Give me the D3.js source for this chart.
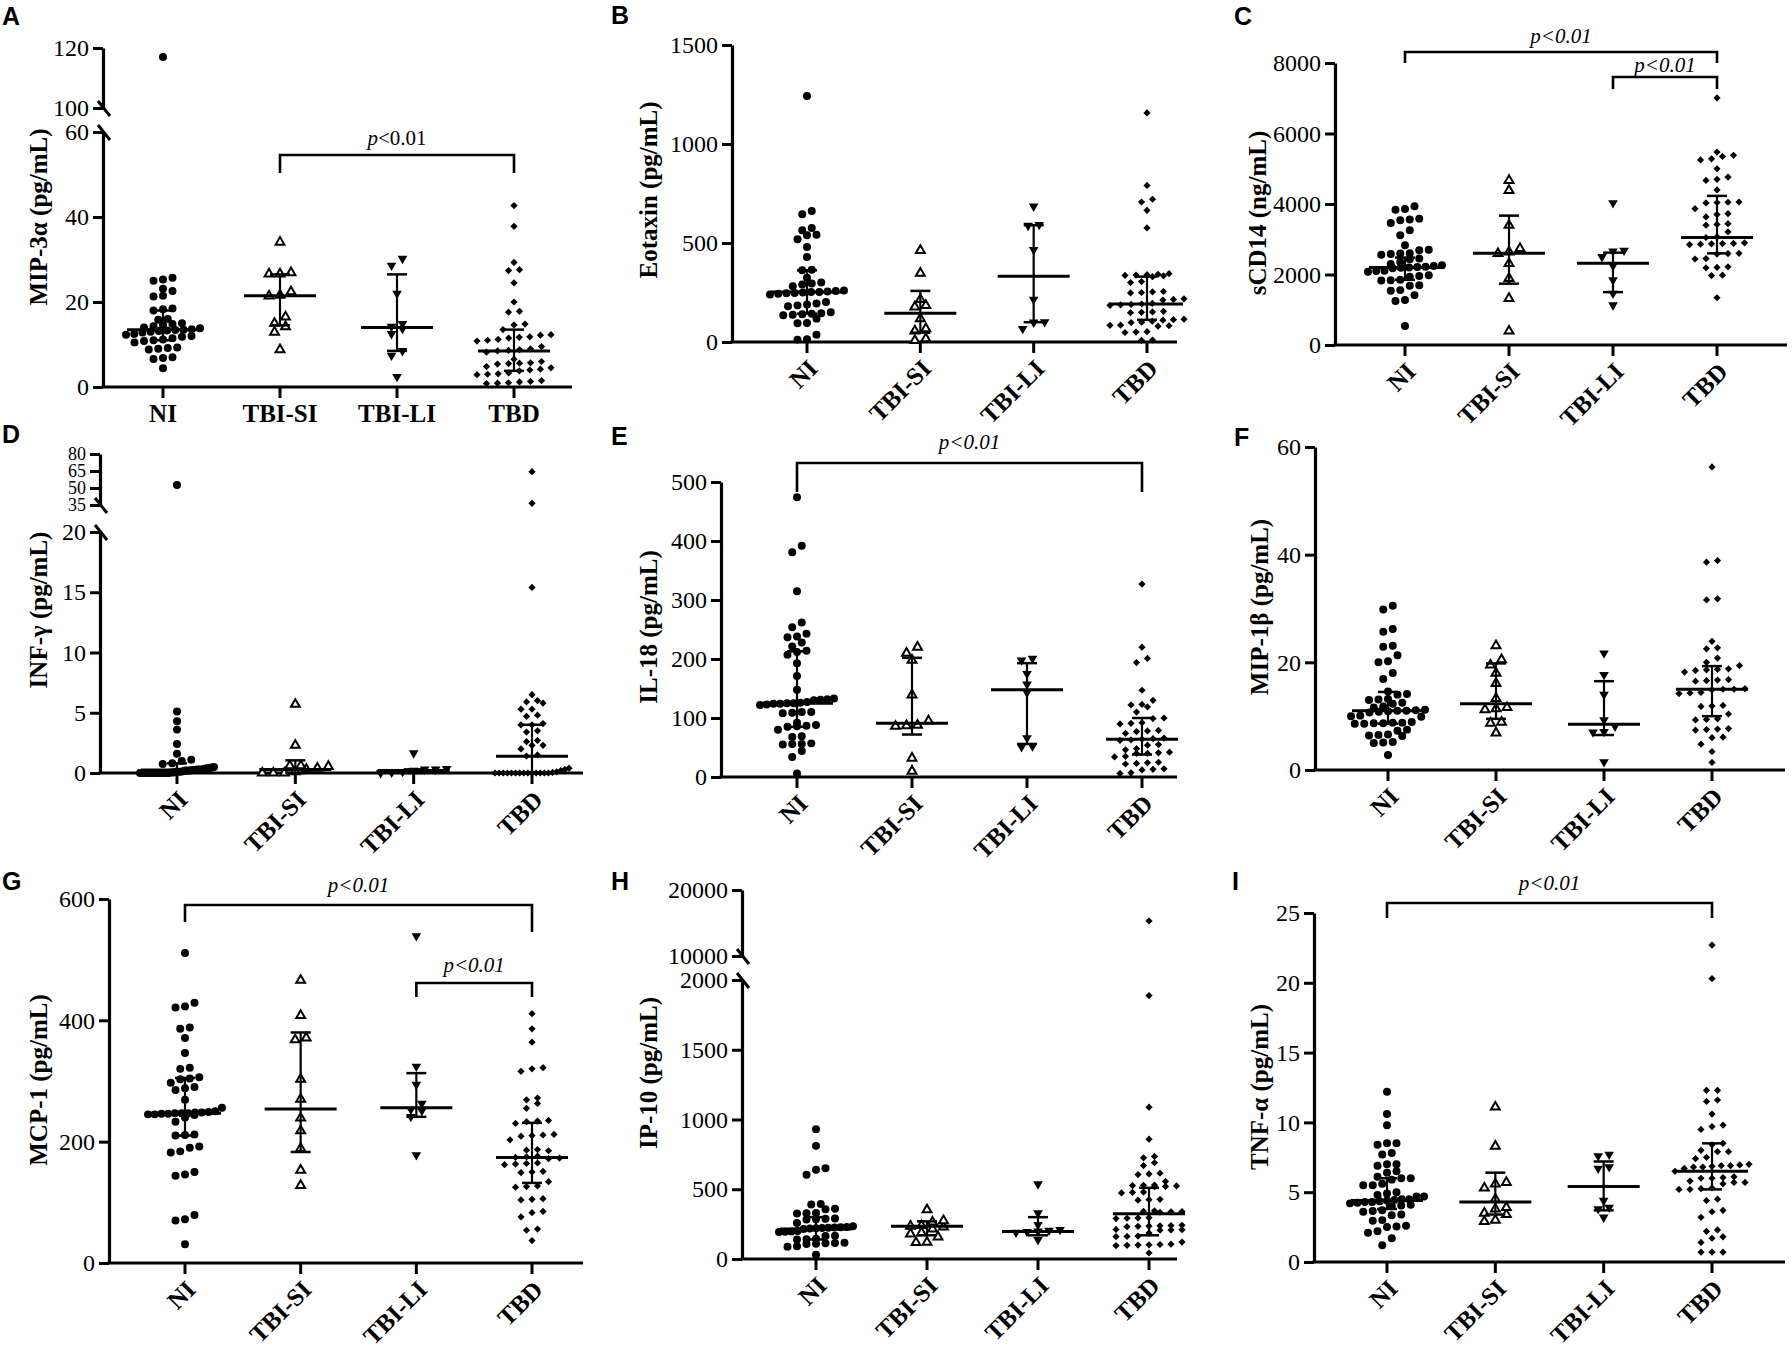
<!DOCTYPE html>
<html>
<head>
<meta charset="utf-8">
<script src="https://cdn.jsdelivr.net/npm/d3@7"></script>
<style>
body { margin: 0; background: #fff; }
svg { display: block; }
</style>
</head>
<body>
<svg id="fig" width="1792" height="1363"></svg>
<script>
const groups = ["NI", "TBI-SI", "TBI-LI", "TBD"];

// A  MIP-3alpha
const mip3a = [
  [117, 25.7, 25.3, 25.0, 23.1, 22.6, 21.5, 21.3, 18.5, 18.3, 18.0, 16.0, 15.8, 15.0, 14.8, 14.6, 14.3, 14.0, 13.8, 13.6, 13.5, 13.4, 13.3, 13.2, 13.0, 12.8, 12.5, 12.3, 12.0, 11.8, 11.5, 11.2, 11.0, 10.8, 10.5, 9.3, 9.2, 9.0, 8.8, 7.0, 6.8, 6.6, 4.4],
  [34.1, 26.9, 26.6, 26.6, 22.4, 21.6, 21.4, 16.5, 15.0, 14.2, 12.9, 8.8],
  [30.2, 28.6, 22.0, 14.9, 14.2, 13.7, 12.5, 8.5, 7.4, 2.4],
  [42.7, 37.8, 29.3, 27.6, 27.4, 24.5, 20.0, 17.8, 17.6, 14.8, 14.6, 13.5, 12.3, 12.2, 11.8, 11.7, 11.5, 11.2, 11.0, 10.8, 9.5, 9.0, 8.8, 8.6, 8.5, 8.2, 6.5, 6.0, 5.7, 5.6, 5.5, 5.4, 4.8, 4.5, 4.2, 4.0, 3.8, 3.3, 3.1, 3.0, 2.9, 1.5, 1.3, 1.2, 1.0, 0.9, 0.8]
];
const mip3aMedian = [13.5, 21.5, 14, 8.5];
const mip3aLow = [11, 14.5, 8.5, 3.8];
const mip3aHigh = [18, 26.5, 26.5, 13.5];
const mip3aTicks = [0, 20, 40, 60, 100, 120];

// B  Eotaxin
const eotaxin = [
  [1242, 662, 645, 576, 564, 542, 539, 519, 480, 429, 365, 362, 325, 300, 295, 290, 281, 260, 258, 255, 253, 252, 250, 248, 246, 244, 240, 202, 195, 190, 185, 180, 150, 145, 143, 140, 138, 135, 118, 96, 95, 37, 14, 12],
  [463, 348, 215, 185, 177, 118, 67, 56, 17, 8],
  [685, 592, 588, 466, 215, 101, 99, 67],
  [1157, 791, 721, 707, 665, 576, 345, 342, 340, 338, 336, 334, 330, 305, 300, 255, 253, 250, 248, 218, 215, 212, 195, 192, 190, 188, 185, 155, 152, 150, 148, 115, 113, 110, 105, 100, 98, 85, 84, 82, 80, 52, 50, 48, 10, 8]
];
const eotaxinMedian = [252, 145, 332, 192];
const eotaxinLow = [143, 47, 100, 112];
const eotaxinHigh = [362, 258, 590, 330];
const eotaxinTicks = [0, 500, 1000, 1500];

// C  sCD14
const scd14 = [
  [3934, 3860, 3840, 3585, 3560, 3538, 3462, 3255, 3113, 2830, 2700, 2689, 2600, 2594, 2580, 2560, 2453, 2430, 2358, 2300, 2260, 2240, 2220, 2210, 2200, 2190, 2180, 2104, 2100, 2080, 1981, 1960, 1940, 1850, 1840, 1830, 1698, 1680, 1557, 1540, 1415, 1274, 1250, 538],
  [4670, 4387, 3396, 2736, 2640, 2594, 2311, 1887, 1321, 396],
  [4028, 2680, 2660, 2500, 2245, 1840, 1462, 1132],
  [7010, 5472, 5380, 5350, 5283, 5250, 5000, 4764, 4700, 4670, 4400, 4057, 4050, 4040, 4030, 3868, 3726, 3700, 3632, 3443, 3420, 3400, 3208, 3066, 3050, 2900, 2880, 2877, 2870, 2860, 2850, 2600, 2594, 2580, 2453, 2440, 2217, 2200, 2190, 1981, 1970, 1340]
];
const scd14Median = [2200, 2600, 2320, 3050];
const scd14Low = [1850, 1740, 1500, 2600];
const scd14High = [2480, 3670, 2620, 4230];
const scd14Ticks = [0, 2000, 4000, 6000, 8000];

// D  INF-gamma
const infg = [
  [52.6, 5.1, 4.3, 3.6, 2.4, 1.6, 1.1, 1.0, 0.8, 0.75, 0.5, 0.45, 0.4, 0.4, 0.35, 0.3, 0.3, 0.3, 0.25, 0.25, 0.2, 0.2, 0.2, 0.15, 0.1, 0.1, 0.1, 0.05, 0.05, 0, 0, 0, 0, 0, 0, 0, 0, 0, 0, 0, 0, 0],
  [5.7, 2.3, 0.6, 0.6, 0.55, 0.4, 0.3, 0.1, 0, 0, 0],
  [1.65, 0.35, 0.3, 0.3, 0.2, 0.1, 0.05, 0],
  [64.4, 36.5, 15.4, 6.5, 6.0, 5.9, 5.8, 5.3, 5.3, 4.8, 4.7, 4.1, 4.0, 4.0, 3.5, 3.4, 2.7, 2.6, 2.3, 2.3, 2.0, 1.5, 1.4, 0.4, 0.3, 0.2, 0.1, 0.05, 0, 0, 0, 0, 0, 0, 0, 0, 0, 0, 0, 0, 0, 0]
];
const infgMedian = [0.25, 0.3, 0.2, 1.4];
const infgLow = [0, 0, 0, 0];
const infgHigh = [0.8, 1.05, 0.3, 4.0];
const infgTicks = [0, 5, 10, 15, 20, 35, 50, 65, 80];

// E  IL-18
const il18 = [
  [474, 392, 381, 315, 262, 254, 243, 238, 237, 228, 221, 214, 212, 207, 193, 171, 148, 133, 132, 131, 130, 127, 126, 125, 125, 124, 124, 123, 122, 110, 110, 109, 108, 92, 88, 87, 86, 85, 80, 69, 68, 57, 56, 56, 55, 44, 34, 6],
  [220, 210, 198, 139, 95, 88, 87, 86, 32, 10],
  [201, 198, 175, 157, 143, 66, 52, 51],
  [327, 220, 201, 194, 147, 130, 123, 122, 119, 110, 100, 99, 92, 91, 90, 79, 78, 77, 74, 66, 65, 64, 63, 62, 55, 54, 48, 46, 42, 41, 40, 40, 35, 34, 25, 24, 23, 22, 14, 13, 12, 7, 6]
];
const il18Median = [125, 91, 148, 64];
const il18Low = [85, 72, 56, 38];
const il18High = [213, 202, 193, 100];
const il18Ticks = [0, 100, 200, 300, 400, 500];

// F  MIP-1beta
const mip1b = [
  [30.5, 29.8, 26.2, 25.7, 23.1, 22.9, 21.3, 20.2, 20.0, 18.0, 16.9, 14.6, 14.1, 14.0, 13.2, 13.1, 13.0, 12.5, 12.3, 11.8, 11.6, 11.2, 11.1, 11.0, 11.0, 10.9, 10.8, 10.7, 10.1, 10.0, 9.9, 8.9, 8.8, 8.8, 8.7, 8.7, 8.6, 8.6, 7.5, 7.3, 6.6, 6.5, 6.4, 6.3, 5.2, 5.1, 5.0, 2.8],
  [23.1, 20.5, 19.5, 18.0, 16.1, 13.3, 11.6, 11.4, 11.2, 8.9, 8.7, 6.9],
  [21.7, 17.7, 14.0, 9.3, 8.1, 7.1, 7.0, 1.5],
  [56.3, 38.9, 38.6, 31.8, 31.6, 23.9, 22.7, 22.5, 20.8, 20.0, 19.4, 18.8, 18.7, 18.6, 18.5, 18.2, 16.8, 16.7, 16.6, 16.5, 15.1, 15.0, 15.0, 14.9, 14.4, 14.3, 14.2, 12.0, 11.9, 11.8, 10.4, 9.5, 9.4, 9.3, 7.7, 7.6, 7.5, 7.4, 6.1, 6.0, 4.8, 3.4, 1.4]
];
const mip1bMedian = [11, 12.3, 8.5, 15];
const mip1bLow = [8.6, 9.5, 6.5, 10];
const mip1bHigh = [14.5, 19.8, 16.5, 19.3];
const mip1bTicks = [0, 20, 40, 60];

// G  MCP-1
const mcp1 = [
  [511, 429, 423, 421, 388, 386, 371, 346, 322, 320, 306, 304, 303, 297, 290, 288, 285, 269, 256, 250, 249, 248, 248, 247, 247, 247, 246, 246, 245, 245, 244, 240, 233, 212, 211, 210, 192, 190, 184, 182, 150, 146, 144, 79, 72, 70, 31],
  [466, 408, 371, 368, 303, 270, 239, 218, 189, 153, 128],
  [539, 324, 294, 263, 253, 251, 241, 178],
  [411, 386, 364, 322, 320, 316, 272, 269, 263, 255, 235, 234, 233, 230, 212, 211, 210, 209, 203, 187, 186, 185, 176, 175, 174, 173, 172, 165, 164, 163, 162, 151, 150, 149, 134, 127, 126, 125, 106, 105, 104, 85, 83, 76, 56, 54, 37]
];
const mcp1Median = [247, 254, 256, 174];
const mcp1Low = [210, 183, 241, 132];
const mcp1High = [305, 380, 313, 231];
const mcp1Ticks = [0, 200, 400, 600];

// H  IP-10
const ip10 = [
  [931, 811, 650, 640, 604, 394, 390, 360, 356, 330, 328, 326, 290, 288, 285, 283, 258, 235, 230, 228, 226, 224, 222, 220, 218, 215, 200, 198, 196, 194, 167, 165, 145, 142, 140, 117, 115, 113, 110, 108, 91, 88, 31],
  [353, 275, 265, 240, 236, 230, 215, 188, 180, 158, 120, 118],
  [537, 329, 246, 210, 205, 198, 196, 190, 138],
  [15300, 1888, 1088, 859, 735, 725, 690, 670, 615, 610, 605, 556, 530, 528, 526, 524, 520, 518, 480, 477, 474, 428, 425, 422, 345, 342, 340, 338, 335, 296, 294, 292, 290, 242, 240, 238, 236, 234, 232, 212, 210, 208, 206, 186, 164, 162, 160, 121, 106, 104, 102, 100, 98, 96, 43]
];
const ip10Median = [215, 234, 198, 325];
const ip10Low = [140, 170, 170, 170];
const ip10High = [300, 270, 300, 510];
const ip10Ticks = [0, 500, 1000, 1500, 2000, 10000, 20000];

// I  TNF-alpha
const tnfa = [
  [12.2, 10.6, 9.8, 8.5, 8.5, 8.4, 7.8, 7.7, 7.0, 7.0, 6.9, 6.5, 6.4, 6.1, 6.0, 6.0, 5.9, 5.6, 5.5, 5.5, 5.0, 4.9, 4.8, 4.7, 4.7, 4.5, 4.5, 4.45, 4.4, 4.35, 4.3, 4.3, 4.25, 4.2, 4.1, 4.05, 4.0, 3.7, 3.65, 3.6, 3.4, 3.35, 3.0, 2.95, 2.6, 2.55, 2.5, 2.2, 2.1, 1.7, 1.2],
  [11.1, 8.3, 5.7, 5.6, 5.3, 4.5, 3.9, 3.8, 3.5, 3.4, 3.0, 2.9],
  [7.7, 7.6, 6.8, 6.7, 4.4, 3.9, 3.8, 3.2],
  [22.7, 20.3, 12.3, 12.3, 11.6, 11.5, 10.6, 9.8, 9.7, 9.5, 8.5, 8.4, 8.0, 7.9, 7.9, 7.5, 7.4, 7.0, 6.95, 6.9, 6.9, 6.85, 6.8, 6.8, 6.7, 6.5, 6.1, 6.05, 6.0, 6.0, 5.8, 5.7, 5.7, 5.6, 5.3, 5.25, 5.2, 5.2, 4.5, 4.4, 3.7, 3.6, 3.2, 2.3, 2.2, 1.8, 1.7, 1.4, 0.7, 0.7, 0.7]
];
const tnfaMedian = [4.4, 4.3, 5.4, 6.5];
const tnfaLow = [3.8, 3.4, 3.7, 5.2];
const tnfaHigh = [6.0, 6.4, 7.2, 8.5];
const tnfaTicks = [0, 5, 10, 15, 20, 25];

// layout of the nine panels (pixels)
const panels = [
  { letter: "A", title: "MIP-3\u03b1 (pg/mL)", data: mip3a, med: mip3aMedian, lo: mip3aLow, hi: mip3aHigh, ticks: mip3aTicks,
    ax: 103, axEnd: 572, xr: [163, 514], flat: true,
    segs: [{ domain: [0, 60], range: [387, 132] }, { domain: [100, 120], range: [108, 48] }],
    letterPos: [2, 25], titlePos: [38, 217],
    brackets: [{ a: 1, b: 3, y: 155, d1: 173, d2: 173, ty: 145, mixed: true }] },
  { letter: "B", title: "Eotaxin (pg/mL)", data: eotaxin, med: eotaxinMedian, lo: eotaxinLow, hi: eotaxinHigh, ticks: eotaxinTicks,
    ax: 732, axEnd: 1177, xr: [807, 1147],
    segs: [{ domain: [0, 1500], range: [342, 45] }],
    letterPos: [611, 24], titlePos: [648, 190], brackets: [] },
  { letter: "C", title: "sCD14 (ng/mL)", data: scd14, med: scd14Median, lo: scd14Low, hi: scd14High, ticks: scd14Ticks,
    ax: 1335, axEnd: 1787, xr: [1405, 1717],
    segs: [{ domain: [0, 8000], range: [345, 63] }],
    letterPos: [1234, 25], titlePos: [1257, 213],
    brackets: [{ a: 0, b: 3, y: 52, d1: 63, d2: 63, ty: 43 }, { a: 2, b: 3, y: 77, d1: 89, d2: 89, ty: 72 }] },
  { letter: "D", title: "INF-\u03b3 (pg/mL)", data: infg, med: infgMedian, lo: infgLow, hi: infgHigh, ticks: infgTicks,
    ax: 100, axEnd: 583, xr: [177, 532],
    segs: [{ domain: [0, 20], range: [773, 532] }, { domain: [35, 80], range: [505, 454] }],
    letterPos: [2, 443], titlePos: [38, 610], brackets: [], smallUpper: true },
  { letter: "E", title: "IL-18  (pg/mL)", data: il18, med: il18Median, lo: il18Low, hi: il18High, ticks: il18Ticks,
    ax: 721, axEnd: 1177, xr: [797, 1142],
    segs: [{ domain: [0, 500], range: [777, 482] }],
    letterPos: [611, 445], titlePos: [648, 627],
    brackets: [{ a: 0, b: 3, y: 463, d1: 492, d2: 492, ty: 449 }] },
  { letter: "F", title: "MIP-1\u03b2 (pg/mL)", data: mip1b, med: mip1bMedian, lo: mip1bLow, hi: mip1bHigh, ticks: mip1bTicks,
    ax: 1315, axEnd: 1785, xr: [1388, 1712],
    segs: [{ domain: [0, 60], range: [770, 447] }],
    letterPos: [1234, 446], titlePos: [1259, 607], brackets: [] },
  { letter: "G", title: "MCP-1 (pg/mL)", data: mcp1, med: mcp1Median, lo: mcp1Low, hi: mcp1High, ticks: mcp1Ticks,
    ax: 109, axEnd: 583, xr: [185, 532],
    segs: [{ domain: [0, 600], range: [1263, 899] }],
    letterPos: [2, 890], titlePos: [38, 1080],
    brackets: [{ a: 0, b: 3, y: 905, d1: 922, d2: 932, ty: 892 }, { a: 2, b: 3, y: 983, d1: 997, d2: 997, ty: 972 }] },
  { letter: "H", title: "IP-10 (pg/mL)", data: ip10, med: ip10Median, lo: ip10Low, hi: ip10High, ticks: ip10Ticks,
    ax: 742, axEnd: 1177, xr: [816, 1149],
    segs: [{ domain: [0, 2000], range: [1259, 980] }, { domain: [10000, 20000], range: [956, 890] }],
    letterPos: [611, 890], titlePos: [648, 1073], brackets: [] },
  { letter: "I", title: "TNF-\u03b1 (pg/mL)", data: tnfa, med: tnfaMedian, lo: tnfaLow, hi: tnfaHigh, ticks: tnfaTicks,
    ax: 1314, axEnd: 1785, xr: [1387, 1712],
    segs: [{ domain: [0, 25], range: [1262, 913] }],
    letterPos: [1232, 890], titlePos: [1259, 1087],
    brackets: [{ a: 0, b: 3, y: 903, d1: 918, d2: 918, ty: 890 }] }
];

const serif = "'Liberation Serif', 'Times New Roman', serif";
const svg = d3.select("#fig");

// marker per group: circle, open triangle, inverted triangle, diamond
const markers = [
  { path: d3.symbol(d3.symbolCircle, 50)(), rot: 0, fill: "#000", stroke: "none", gap: 9.5 },
  { path: d3.symbol(d3.symbolTriangle, 34)(), rot: 0, fill: "#fff", stroke: "#000", gap: 11 },
  { path: d3.symbol(d3.symbolTriangle, 40)(), rot: 180, fill: "#000", stroke: "none", gap: 11 },
  { path: d3.symbol(d3.symbolSquare, 26)(), rot: 45, fill: "#000", stroke: "none", gap: 11 }
];
const rowHeight = 7;
const maxHalf = 37;

// y scale built from linear pieces (for broken axes)
function brokenScale(segs) {
  const scales = segs.map(s => d3.scaleLinear().domain(s.domain).range(s.range));
  const f = v => {
    let i = segs.findIndex(s => v >= s.domain[0] && v <= s.domain[1]);
    if (i < 0) i = v < segs[0].domain[0] ? 0 : segs.length - 1;
    return scales[i](v);
  };
  f.scales = scales;
  return f;
}

// scatter-dot layout: points are binned into rows and spread sideways,
// squeezed together when a row gets too wide
function swarm(vals, y, gap) {
  const pts = vals.map(v => ({ v, y: y(v) })).sort((a, b) => b.y - a.y);
  const rows = [];
  pts.forEach(p => {
    const r = rows[rows.length - 1];
    if (r && r[0].y - p.y < rowHeight) r.push(p); else rows.push([p]);
  });
  rows.forEach(r => {
    const n = r.length;
    const s = n > 1 ? Math.min(gap, 2 * maxHalf / (n - 1)) : 0;
    r.forEach((p, i) => { p.x = (i - (n - 1) / 2) * s; });
  });
  return pts;
}

panels.forEach(p => {
  const g = svg.append("g");
  const y = brokenScale(p.segs);
  const x = d3.scalePoint().domain(groups).range(p.xr);
  const y0 = y(0);

  // y axis pieces
  p.segs.forEach((s, i) => {
    const ax = g.append("g")
      .attr("transform", `translate(${p.ax},0)`)
      .call(d3.axisLeft(y.scales[i])
        .tickValues(p.ticks.filter(t => t >= s.domain[0] && t <= s.domain[1]))
        .tickSize(10).tickSizeOuter(0).tickPadding(4)
        .tickFormat(d3.format("d")));
    ax.select(".domain").attr("stroke-width", 3.2);
    ax.selectAll(".tick line").attr("stroke-width", 3);
    ax.selectAll(".tick text")
      .attr("font-family", serif)
      .attr("font-size", p.smallUpper && i > 0 ? 18 : 24)
      .attr("fill", "#000");
  });

  // break marks
  for (let i = 0; i + 1 < p.segs.length; i++) {
    [p.segs[i].range[1], p.segs[i + 1].range[0]].forEach(yy => {
      g.append("line")
        .attr("x1", p.ax - 5).attr("y1", yy - 7)
        .attr("x2", p.ax + 7).attr("y2", yy + 8)
        .attr("stroke", "#000").attr("stroke-width", 3);
    });
  }

  // x axis
  g.append("line")
    .attr("x1", p.ax - 1.5).attr("x2", p.axEnd)
    .attr("y1", y0).attr("y2", y0)
    .attr("stroke", "#000").attr("stroke-width", 3.2);
  g.selectAll(".xt").data(groups).join("line")
    .attr("x1", d => x(d)).attr("x2", d => x(d))
    .attr("y1", y0).attr("y2", y0 + 11)
    .attr("stroke", "#000").attr("stroke-width", 3);

  const xl = g.selectAll(".xl").data(groups).join("text")
    .attr("font-family", serif).attr("font-weight", "bold")
    .attr("font-size", 25).attr("fill", "#000")
    .text(d => d);
  if (p.flat) {
    xl.attr("x", d => x(d)).attr("y", y0 + 35).attr("text-anchor", "middle");
  } else {
    xl.attr("text-anchor", "end").attr("dy", "0.35em")
      .attr("transform", d => `translate(${x(d) + 6},${y0 + 22}) rotate(-45)`);
  }

  // points
  groups.forEach((grp, gi) => {
    const m = markers[gi];
    const pts = swarm(p.data[gi], y, m.gap);
    g.append("g").selectAll("path").data(pts).join("path")
      .attr("d", m.path)
      .attr("transform", d => `translate(${x(grp) + d.x},${d.y}) rotate(${m.rot})`)
      .attr("fill", m.fill).attr("stroke", m.stroke).attr("stroke-width", 2);

    // median with interquartile range
    const cx = x(grp);
    const st = g.append("g").attr("stroke", "#000");
    st.append("line").attr("x1", cx).attr("x2", cx)
      .attr("y1", y(p.lo[gi])).attr("y2", y(p.hi[gi])).attr("stroke-width", 2.2);
    [p.lo[gi], p.hi[gi]].forEach(v => {
      st.append("line").attr("x1", cx - 10).attr("x2", cx + 10)
        .attr("y1", y(v)).attr("y2", y(v)).attr("stroke-width", 2.5);
    });
    st.append("line").attr("x1", cx - 36).attr("x2", cx + 36)
      .attr("y1", y(p.med[gi])).attr("y2", y(p.med[gi])).attr("stroke-width", 3);
  });

  // significance brackets
  p.brackets.forEach(b => {
    const xa = x(groups[b.a]), xb = x(groups[b.b]);
    g.append("path")
      .attr("d", `M${xa},${b.d1}V${b.y}H${xb}V${b.d2}`)
      .attr("fill", "none").attr("stroke", "#000").attr("stroke-width", 2.6);
    const t = g.append("text")
      .attr("x", (xa + xb) / 2).attr("y", b.ty)
      .attr("text-anchor", "middle")
      .attr("font-family", serif).attr("font-size", 21).attr("fill", "#000");
    t.append("tspan").attr("font-style", "italic").text("p");
    t.append("tspan").attr("font-style", b.mixed ? "normal" : "italic").text("<0.01");
  });

  // y title
  g.append("text")
    .attr("transform", `translate(${p.titlePos[0]},${p.titlePos[1]}) rotate(-90)`)
    .attr("text-anchor", "middle").attr("dy", "0.35em")
    .attr("font-family", serif).attr("font-weight", "bold")
    .attr("font-size", 25).attr("fill", "#000")
    .text(p.title);

  // panel letter
  g.append("text")
    .attr("x", p.letterPos[0]).attr("y", p.letterPos[1])
    .attr("font-family", "'Liberation Sans', Arial, sans-serif")
    .attr("font-weight", "bold").attr("font-size", 25).attr("fill", "#000")
    .text(p.letter);
});
</script>
</body>
</html>
